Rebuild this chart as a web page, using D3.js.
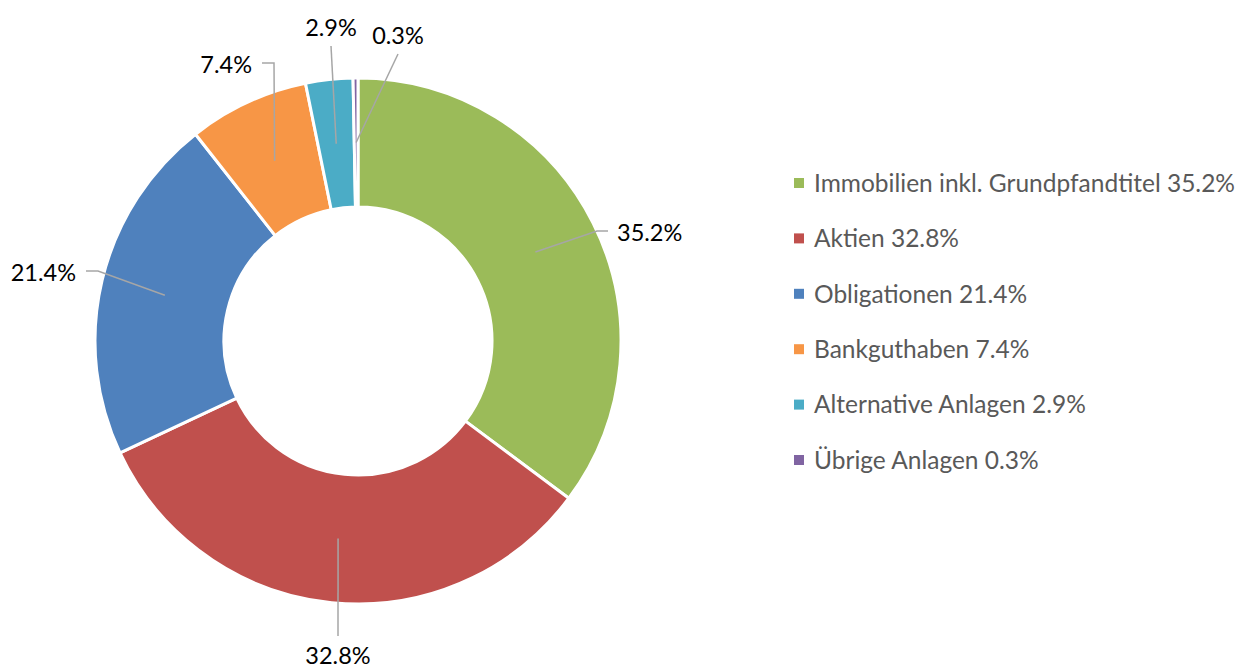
<!DOCTYPE html>
<html>
<head>
<meta charset="utf-8">
<script src="https://cdn.jsdelivr.net/npm/d3@7"></script>
<style>
  body { margin: 0; background: #fff; }
  svg { display: block; font-family: Lato, "Noto Sans", sans-serif; }
</style>
</head>
<body>
<svg id="donut" width="1243" height="666"></svg>
<script>
// data
const categories = [
  "Immobilien inkl. Grundpfandtitel",
  "Aktien",
  "Obligationen",
  "Bankguthaben",
  "Alternative Anlagen",
  "Übrige Anlagen",
];
const shares = [35.2, 32.8, 21.4, 7.4, 2.9, 0.3];
const colors = ["#9bbb59", "#c0504d", "#4f81bd", "#f79646", "#4bacc6", "#8064a2"];

// label placement (end of the leader line, relative to the centre) and side
const labelEnd = [
  [250, -110, "r"],
  [-20, 295, "b"],
  [-272, -70, "l"],
  [-96, -278, "l"],
  [-27, -295, "t"],
  [40, -287, "t"],
];

const fmt = (v) => d3.format(".1f")(v) + "%";

var dimensions = {
  width: 1243,
  height: 666,
  cx: 358,
  cy: 341,
  outer: 263,
  inner: 134,
};

var svg = d3.select("#donut");

var data = categories.map((c, i) => ({ name: c, value: shares[i], i: i }));

var pie = d3.pie().value((d) => d.value).sort(null);
var arc = d3.arc().innerRadius(dimensions.inner).outerRadius(dimensions.outer);

var bounds = svg
  .append("g")
  .attr("transform", `translate(${dimensions.cx},${dimensions.cy})`);

var arcs = pie(data);

bounds
  .selectAll("path.slice")
  .data(arcs)
  .enter()
  .append("path")
  .attr("class", "slice")
  .attr("d", arc)
  .attr("fill", (d) => colors[d.data.i])
  .attr("stroke", "#fff")
  .attr("stroke-width", 3)
  .attr("stroke-linejoin", "round");

// leader lines
bounds
  .selectAll("path.leader")
  .data(arcs)
  .enter()
  .append("path")
  .attr("class", "leader")
  .attr("fill", "none")
  .attr("stroke", "#a6a6a6")
  .attr("stroke-width", 1.5)
  .attr("d", function (d) {
    var c = arc.centroid(d);
    var e = labelEnd[d.data.i];
    var pts = [c];
    if (e[2] == "r") pts.push([e[0] - 11, e[1]]);
    if (e[2] == "l") pts.push([e[0] + 12, e[1]]);
    pts.push([e[0], e[1]]);
    return d3.line()(pts);
  });

// data labels
bounds
  .selectAll("text.label")
  .data(arcs)
  .enter()
  .append("text")
  .attr("class", "label")
  .attr("font-size", 23.5)
  .attr("fill", "#000")
  .attr("dy", "0.35em")
  .attr("text-anchor", function (d) {
    var s = labelEnd[d.data.i][2];
    return s == "r" ? "start" : s == "l" ? "end" : "middle";
  })
  .attr("x", function (d) {
    var e = labelEnd[d.data.i];
    if (e[2] == "r") return e[0] + 9;
    if (e[2] == "l") return e[0] - 10;
    return e[0];
  })
  .attr("y", function (d) {
    var e = labelEnd[d.data.i];
    if (e[2] == "t") return e[1] - 18;
    if (e[2] == "b") return e[1] + 20;
    return e[1] + 2;
  })
  .text((d) => fmt(d.data.value));

// legend
var legend = svg
  .append("g")
  .attr("transform", "translate(794,183)");

var yLegend = d3
  .scalePoint()
  .domain(categories)
  .range([0, 277]);

var items = legend
  .selectAll("g.item")
  .data(data)
  .enter()
  .append("g")
  .attr("class", "item")
  .attr("transform", (d) => `translate(0,${yLegend(d.name)})`);

items
  .append("rect")
  .attr("x", 0)
  .attr("y", -5)
  .attr("width", 10)
  .attr("height", 10)
  .attr("fill", (d) => colors[d.i]);

items
  .append("text")
  .attr("x", 20)
  .attr("dy", "0.36em")
  .attr("font-size", 24.5)
  .attr("fill", "#595959")
  .text((d) => d.name + " " + fmt(d.value));
</script>
</body>
</html>
